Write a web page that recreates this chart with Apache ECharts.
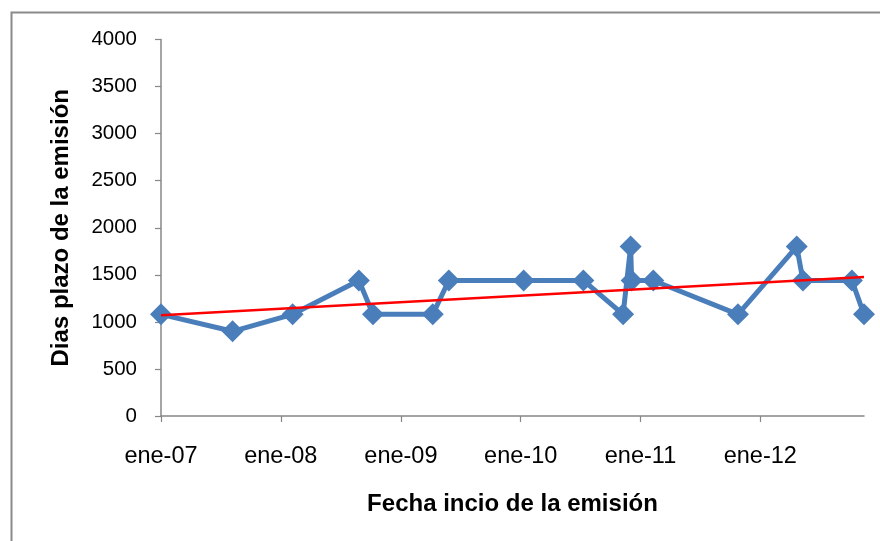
<!DOCTYPE html>
<html>
<head>
<meta charset="utf-8">
<style>
  html, body { margin: 0; padding: 0; background: #ffffff; }
  #chart { width: 880px; height: 541px; }
</style>
<script src="https://cdn.jsdelivr.net/npm/echarts@6/dist/echarts.min.js"></script>
</head>
<body>
<div id="chart"></div>
<script>
// Fecha de inicio de cada emisión y su plazo en días
const issueDates = [
  '2007-01-01', '2007-08-07', '2008-02-06', '2008-08-26', '2008-10-08',
  '2009-04-08', '2009-05-27', '2010-01-10', '2010-07-11', '2010-11-09',
  '2010-12-02', '2010-12-05', '2011-02-09', '2011-10-25', '2012-04-21',
  '2012-05-10', '2012-10-06', '2012-11-12'
];
const termDays = [
  1080, 900, 1080, 1440, 1080,
  1080, 1440, 1440, 1440, 1080,
  1800, 1440, 1440, 1080, 1800,
  1440, 1440, 1080
];

// Línea de tendencia lineal: valor al inicio y al final del periodo
const trendEnds = [1070, 1477];

// Marcas anuales del eje horizontal
const tickYears = [2007, 2008, 2009, 2010, 2011, 2012];
const tickLabels = ['ene-07', 'ene-08', 'ene-09', 'ene-10', 'ene-11', 'ene-12'];

const yTicks = { min: 0, max: 4000, step: 500 };

function toTime(s) {
  const p = s.split('-').map(Number);
  return new Date(p[0], p[1] - 1, p[2]).getTime();
}

const dateTimes = issueDates.map(toTime);
const tickTimes = tickYears.map(y => new Date(y, 0, 1).getTime());
const seriesData = dateTimes.map((t, i) => [t, termDays[i]]);
const trendData = [
  [dateTimes[0], trendEnds[0]],
  [dateTimes[dateTimes.length - 1], trendEnds[1]]
];

const FONT = '"Liberation Sans", Arial, sans-serif';
const AXIS_GREY = '#878787';

const chart = echarts.init(document.getElementById('chart'), null, { renderer: 'canvas' });

chart.setOption({
  backgroundColor: '#ffffff',
  animation: false,
  graphic: [{
    type: 'rect',
    left: 9, top: 10,
    shape: { width: 900, height: 600 },
    style: { fill: 'none', stroke: '#8a8a8a', lineWidth: 2 },
    silent: true,
    z: -1
  }],
  grid: { left: 161, right: 16, top: 39.5, bottom: 125 },
  xAxis: {
    type: 'value',
    min: dateTimes[0],
    max: dateTimes[dateTimes.length - 1],
    name: 'Fecha incio de la emisión',
    nameLocation: 'middle',
    nameGap: 76,
    nameTextStyle: { fontFamily: FONT, fontSize: 24, fontWeight: 'bold', color: '#000' },
    axisLine: { show: true, lineStyle: { color: AXIS_GREY, width: 1.5 } },
    axisTick: {
      show: true, length: 6, inside: false,
      customValues: tickTimes,
      lineStyle: { color: AXIS_GREY, width: 1.2 }
    },
    axisLabel: {
      customValues: tickTimes,
      margin: 29,
      fontFamily: FONT, fontSize: 23.5, color: '#000',
      formatter: function (v) {
        const y = new Date(v).getFullYear();
        const idx = tickYears.indexOf(y);
        return idx >= 0 ? tickLabels[idx] : '';
      }
    },
    splitLine: { show: false }
  },
  yAxis: {
    type: 'value',
    min: yTicks.min,
    max: yTicks.max,
    interval: yTicks.step,
    name: 'Dias plazo de la emisión',
    nameLocation: 'middle',
    nameRotate: 90,
    nameGap: 88,
    nameTextStyle: { fontFamily: FONT, fontSize: 24, fontWeight: 'bold', color: '#000' },
    axisLine: { show: true, lineStyle: { color: AXIS_GREY, width: 1.5 } },
    axisTick: { show: true, length: 6, inside: false, lineStyle: { color: AXIS_GREY, width: 1.2 } },
    axisLabel: {
      margin: 24, fontFamily: FONT, fontSize: 20.5, color: '#000',
      formatter: function (v) { return String(v); }
    },
    splitLine: { show: false }
  },
  series: [
    {
      name: 'Plazo',
      type: 'line',
      data: seriesData,
      clip: false,
      symbol: 'diamond',
      symbolSize: 22,
      itemStyle: { color: '#4A7EBB' },
      lineStyle: { color: '#4A7EBB', width: 5 },
      z: 2
    },
    {
      name: 'Tendencia',
      type: 'line',
      data: trendData,
      clip: false,
      symbol: 'none',
      lineStyle: { color: '#FF0000', width: 2.6 },
      z: 3
    }
  ]
});
</script>
</body>
</html>
